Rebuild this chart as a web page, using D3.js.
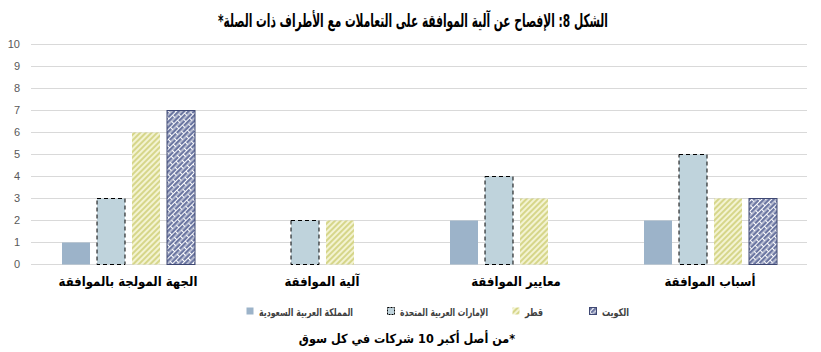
<!DOCTYPE html>
<html>
<head>
<meta charset="utf-8">
<script src="https://cdn.jsdelivr.net/npm/d3@7"></script>
<style>
  body { margin: 0; background: #fff; }
  svg { display: block; font-family: "DejaVu Sans Condensed", "DejaVu Sans", sans-serif; }
</style>
</head>
<body>
<svg width="821" height="352"></svg>
<script>
// categories left to right as drawn
var categories = ["الجهة المولجة بالموافقة", "آلية الموافقة", "معايير الموافقة", "أسباب الموافقة"];

// one array per market
var saudi  = [1, 0, 2, 2];
var uae    = [3, 2, 4, 5];
var qatar  = [6, 2, 3, 3];
var kuwait = [7, 0, 0, 3];

var seriesNames = ["المملكة العربية السعودية", "الإمارات العربية المتحدة", "قطر", "الكويت"];
var yTicks = [0, 1, 2, 3, 4, 5, 6, 7, 8, 9, 10];

var series = [saudi, uae, qatar, kuwait];

var svg = d3.select("svg");

// patterns for the bar fills
var defs = svg.append("defs");

var stripes = defs.append("pattern")
    .attr("id", "pat-qatar")
    .attr("patternUnits", "userSpaceOnUse")
    .attr("width", 4).attr("height", 4)
    .attr("patternTransform", "rotate(45)");
stripes.append("rect").attr("width", 4).attr("height", 4).attr("fill", "#f3f3d2");
stripes.append("rect").attr("width", 2).attr("height", 4).attr("fill", "#d6d68a");

var brick = defs.append("pattern")
    .attr("id", "pat-kuwait")
    .attr("patternUnits", "userSpaceOnUse")
    .attr("width", 10).attr("height", 7)
    .attr("patternTransform", "rotate(-45)");
brick.append("rect").attr("width", 10).attr("height", 7).attr("fill", "#6c77a2");
brick.append("path")
    .attr("d", "M0,0.5H10M0,4H10M0.5,0.5V4M5.5,4V7")
    .attr("stroke", "#fff").attr("stroke-width", 1).attr("fill", "none");

var fills = ["#9cb3c9", "#bfd3dc", "url(#pat-qatar)", "url(#pat-kuwait)"];
var strokes = ["none", "#000", "none", "#3f4873"];
var dashes = [null, "4,3", null, null];

var margin = {left: 31, right: 14, top: 44, bottom: 88};
var width = 821 - margin.left - margin.right;
var height = 352 - margin.top - margin.bottom;

var x0 = d3.scaleBand()
    .domain(d3.range(categories.length))
    .range([margin.left, margin.left + width]);

var x1 = d3.scaleBand()
    .domain(d3.range(series.length))
    .range([27, 167])
    .paddingInner(0.2)
    .paddingOuter(0.1);

var y = d3.scaleLinear()
    .domain([0, 10])
    .range([margin.top + height, margin.top]);

// gridlines
svg.append("g")
    .selectAll("line")
    .data(yTicks)
    .join("line")
    .attr("x1", margin.left)
    .attr("x2", margin.left + width)
    .attr("y1", d => Math.round(y(d)) + 0.5)
    .attr("y2", d => Math.round(y(d)) + 0.5)
    .attr("stroke", "#d9d9d9");

// y axis labels
var yAxis = d3.axisLeft(y).tickValues(yTicks).tickSize(0).tickPadding(11);
var gy = svg.append("g")
    .attr("transform", "translate(" + margin.left + ",0)")
    .call(yAxis);
gy.select(".domain").remove();
gy.selectAll("text")
    .attr("font-family", "'Liberation Sans', sans-serif")
    .attr("font-size", 11)
    .attr("fill", "#595959");

// bars
series.forEach(function(vals, s) {
    var pts = vals.map((v, i) => ({v: v, i: i})).filter(d => d.v > 0);
    svg.append("g")
        .selectAll("rect")
        .data(pts)
        .join("rect")
        .attr("x", d => x0(d.i) + x1(s) + 0.5)
        .attr("y", d => Math.round(y(d.v)) + 0.5)
        .attr("width", x1.bandwidth())
        .attr("height", d => Math.round(y(0)) - Math.round(y(d.v)))
        .attr("fill", fills[s])
        .attr("stroke", strokes[s])
        .attr("stroke-width", 1)
        .attr("stroke-dasharray", dashes[s]);
});

// category labels
svg.append("g")
    .selectAll("text")
    .data(categories)
    .join("text")
    .attr("x", (d, i) => x0(i) + x0.bandwidth() / 2)
    .attr("y", 286)
    .attr("direction", "rtl")
    .attr("text-anchor", "middle")
    .attr("font-size", 13)
    .attr("font-weight", "bold")
    .attr("fill", "#000")
    .text(d => d);

// title
svg.append("text")
    .attr("x", 413)
    .attr("y", 27)
    .attr("direction", "rtl")
    .attr("text-anchor", "middle")
    .attr("font-size", 18)
    .attr("font-weight", "bold")
    .attr("fill", "#000")
    .attr("textLength", 390)
    .attr("lengthAdjust", "spacingAndGlyphs")
    .text("الشكل 8: الإفصاح عن آلية الموافقة على التعاملات مع الأطراف ذات الصلة*");

// legend
var legendX = [246, 387, 512, 589];
var legendW = [94, 88, 18, 27];
var legend = svg.append("g")
    .selectAll("g")
    .data(seriesNames)
    .join("g")
    .attr("transform", (d, i) => "translate(" + legendX[i] + ",312)");

legend.append("rect")
    .attr("x", 0.5).attr("y", -4.5)
    .attr("width", 7).attr("height", 7)
    .attr("fill", (d, i) => fills[i])
    .attr("stroke", (d, i) => strokes[i])
    .attr("stroke-dasharray", (d, i) => i == 1 ? "2,1" : null);

legend.append("text")
    .attr("x", 13)
    .attr("y", 4)
    .attr("font-size", 10.5)
    .attr("font-weight", "bold")
    .attr("fill", "#404040")
    .attr("textLength", (d, i) => legendW[i])
    .attr("lengthAdjust", "spacingAndGlyphs")
    .text(d => d);

// footnote
svg.append("text")
    .attr("x", 407)
    .attr("y", 343)
    .attr("direction", "rtl")
    .attr("text-anchor", "middle")
    .attr("font-size", 12.5)
    .attr("font-weight", "bold")
    .attr("fill", "#000")
    .text("*من أصل أكبر 10 شركات في كل سوق");
</script>
</body>
</html>
